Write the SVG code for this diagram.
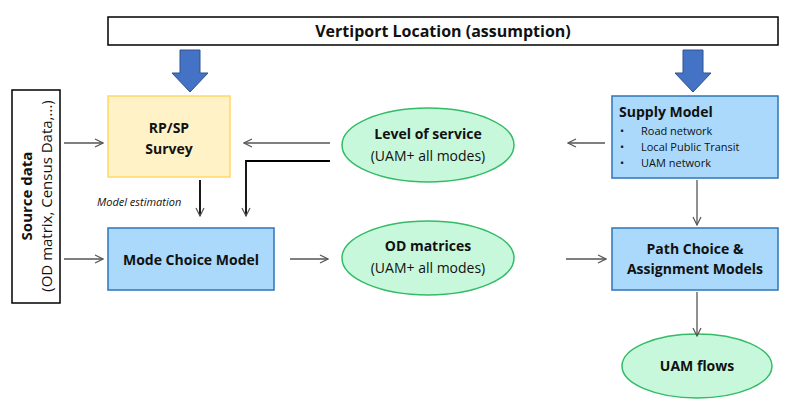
<svg xmlns="http://www.w3.org/2000/svg" width="800" height="412" viewBox="0 0 800 412">
<defs>
<marker id="a" markerWidth="10" markerHeight="10" refX="9" refY="5" orient="auto" markerUnits="userSpaceOnUse"><path d="M1,1 L9,5 L1,9" fill="none" stroke="#555" stroke-width="1.2"/></marker>
<marker id="b" markerWidth="10" markerHeight="10" refX="5" refY="9" orient="auto" markerUnits="userSpaceOnUse"><path d="M1,1 L5,9 L9,1" fill="none" stroke="#000" stroke-width="1.5" transform="rotate(-90 5 5)"/></marker>
</defs>
<style>
text{font-family:"Open Sans","Noto Sans","Liberation Sans",sans-serif;fill:#111}
.b{font-weight:bold}
.blue{fill:#aad9fb;stroke:#2e75b6;stroke-width:1.5}
.ell{fill:#c8f8dc;stroke:#33bb66;stroke-width:1.5}
.c{fill:none;stroke:#555;stroke-width:1.3}
.k{fill:none;stroke:#000;stroke-width:1.8}
.big{fill:#4472c4;stroke:#2f528f;stroke-width:1}
</style>
<rect width="800" height="412" fill="#fff"/>
<g id="vertiport"><rect x="108" y="17" width="670" height="28" fill="#fff" stroke="#000" stroke-width="1.5"/><text x="443" y="37" text-anchor="middle" class="b" font-size="16">Vertiport Location (assumption)</text></g>
<g id="arrowL"><path class="big" d="M180,50 H200 V73 H208 L190,92 L172,73 H180 Z"/></g>
<g id="arrowR"><path class="big" d="M683,50 H703 V73 H711 L693,92 L675,73 H683 Z"/></g>
<g id="source"><rect x="12" y="90" width="48" height="213" fill="#fff" stroke="#000" stroke-width="1.5"/><text transform="translate(32 196) rotate(-90)" text-anchor="middle" class="b" font-size="15">Source data</text><text transform="translate(52 196) rotate(-90)" text-anchor="middle" font-size="15">(OD matrix, Census Data,...)</text></g>
<g id="rpsp"><rect x="108" y="96" width="122" height="81" fill="#fff2c6" stroke="#ffd966" stroke-width="1.5"/><text x="169" y="133" text-anchor="middle" class="b" font-size="14">RP/SP</text><text x="169" y="154" text-anchor="middle" class="b" font-size="14">Survey</text></g>
<g id="mode"><rect class="blue" x="108" y="228" width="166" height="62"/><text x="191" y="265" text-anchor="middle" class="b" font-size="14">Mode Choice Model</text></g>
<g id="los"><ellipse class="ell" cx="428" cy="145" rx="86" ry="37"/><text x="428" y="139" text-anchor="middle" class="b" font-size="14">Level of service</text><text x="428" y="161" text-anchor="middle" font-size="14">(UAM+ all modes)</text></g>
<g id="od"><ellipse class="ell" cx="428" cy="258" rx="86" ry="37"/><text x="428" y="251" text-anchor="middle" class="b" font-size="14">OD matrices</text><text x="428" y="273" text-anchor="middle" font-size="14">(UAM+ all modes)</text></g>
<g id="supply"><rect class="blue" x="612" y="96" width="166" height="82"/><text x="619" y="117" class="b" font-size="14">Supply Model</text><text x="620" y="135" font-size="11">•</text><text x="641" y="135" font-size="11">Road network</text><text x="620" y="151" font-size="11">•</text><text x="641" y="151" font-size="11">Local Public Transit</text><text x="620" y="167" font-size="11">•</text><text x="641" y="167" font-size="11">UAM network</text></g>
<g id="path"><rect class="blue" x="612" y="228" width="166" height="62"/><text x="695" y="254" text-anchor="middle" class="b" font-size="14">Path Choice &amp;</text><text x="695" y="274" text-anchor="middle" class="b" font-size="14">Assignment Models</text></g>
<g id="uam"><ellipse class="ell" cx="697" cy="366" rx="75" ry="32"/><text x="697" y="371" text-anchor="middle" class="b" font-size="14">UAM flows</text></g>
<g id="connectors">
<path class="c" marker-end="url(#a)" d="M64,143 H103"/>
<path class="c" marker-end="url(#a)" d="M64,259 H103"/>
<path class="c" marker-end="url(#a)" d="M330,143 H244"/>
<path class="c" marker-end="url(#a)" d="M605,143 H568"/>
<path class="c" marker-end="url(#a)" d="M290,259 H328"/>
<path class="c" marker-end="url(#a)" d="M566,259 H606"/>
<path class="c" marker-end="url(#a)" d="M697,180 V225"/>
<path class="c" marker-end="url(#a)" d="M697,292 V336"/>
<path class="k" marker-end="url(#a)" d="M200,180 V216"/>
<path class="k" marker-end="url(#a)" d="M330,161 H246 V216"/>
<text x="97" y="206" font-size="11" font-style="italic">Model estimation</text>
</g>
</svg>
